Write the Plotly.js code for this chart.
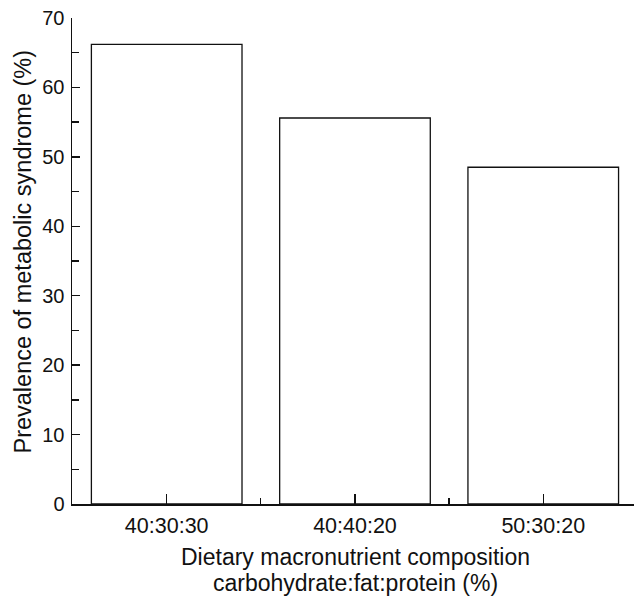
<!DOCTYPE html>
<html>
<head>
<meta charset="utf-8">
<script src="https://cdn.plot.ly/plotly-3.0.1.min.js"></script>
<style>html,body{margin:0;padding:0;background:#fff;overflow:hidden}</style>
</head>
<body>
<div id="chart" style="width:634px;height:597px"></div>
<script>
const categories = ["40:30:30", "40:40:20", "50:30:20"];
const prevalence = [66.2, 55.6, 48.5];
const yTickVals = [0, 10, 20, 30, 40, 50, 60, 70];
const xTitleLines = ["Dietary macronutrient composition", "carbohydrate:fat:protein (%)"];
const yTitle = "Prevalence of metabolic syndrome (%)";

const positions = categories.map((_, i) => i);

const trace = {
  type: 'bar',
  x: positions,
  y: prevalence,
  width: 0.8,
  marker: {color: '#ffffff', line: {color: '#111111', width: 1.3}},
  hoverinfo: 'skip'
};

const fontFam = '"Liberation Sans", Arial, Helvetica, sans-serif';
const ink = '#111111';

const layout = {
  width: 634,
  height: 597,
  margin: {l: 72, r: 0, t: 18, b: 93},
  paper_bgcolor: '#ffffff',
  plot_bgcolor: '#ffffff',
  showlegend: false,
  font: {family: fontFam, color: ink},
  xaxis: {
    range: [-0.503, 2.482],
    tickmode: 'array',
    tickvals: positions,
    ticktext: categories,
    ticks: 'inside',
    ticklen: 10,
    tickwidth: 1.3,
    tickcolor: ink,
    minor: {ticks: 'inside', tickmode: 'array', tickvals: [0.5, 1.5], ticklen: 6, tickwidth: 1.3, tickcolor: ink, showgrid: false},
    showline: true,
    linecolor: ink,
    linewidth: 1.5,
    showgrid: false,
    zeroline: false,
    tickfont: {size: 21.5, family: fontFam, color: ink},
    ticklabelstandoff: 2
  },
  yaxis: {
    range: [0, 70],
    tickmode: 'array',
    tickvals: yTickVals,
    ticks: 'inside',
    ticklen: 8,
    tickwidth: 1.3,
    tickcolor: ink,
    minor: {ticks: 'inside', dtick: 5, tick0: 0, ticklen: 7, tickwidth: 1.3, tickcolor: ink, showgrid: false},
    showline: true,
    linecolor: ink,
    linewidth: 1.5,
    showgrid: false,
    zeroline: false,
    tickfont: {size: 20, family: fontFam, color: ink},
    ticklabelstandoff: 2
  },
  annotations: [
    {text: xTitleLines[0], xref: 'paper', yref: 'paper', x: 0.5036, y: 0, xanchor: 'center', yanchor: 'top', yshift: -38, showarrow: false, font: {size: 23, family: fontFam, color: ink}},
    {text: xTitleLines[1], xref: 'paper', yref: 'paper', x: 0.5036, y: 0, xanchor: 'center', yanchor: 'top', yshift: -64, showarrow: false, font: {size: 23, family: fontFam, color: ink}},
    {text: yTitle, xref: 'paper', yref: 'paper', x: 0, y: 0.5195, xanchor: 'center', yanchor: 'middle', xshift: -49, textangle: -90, showarrow: false, font: {size: 23.5, family: fontFam, color: ink}}
  ]
};

Plotly.newPlot('chart', [trace], layout, {displayModeBar: false, staticPlot: true});
</script>
</body>
</html>
